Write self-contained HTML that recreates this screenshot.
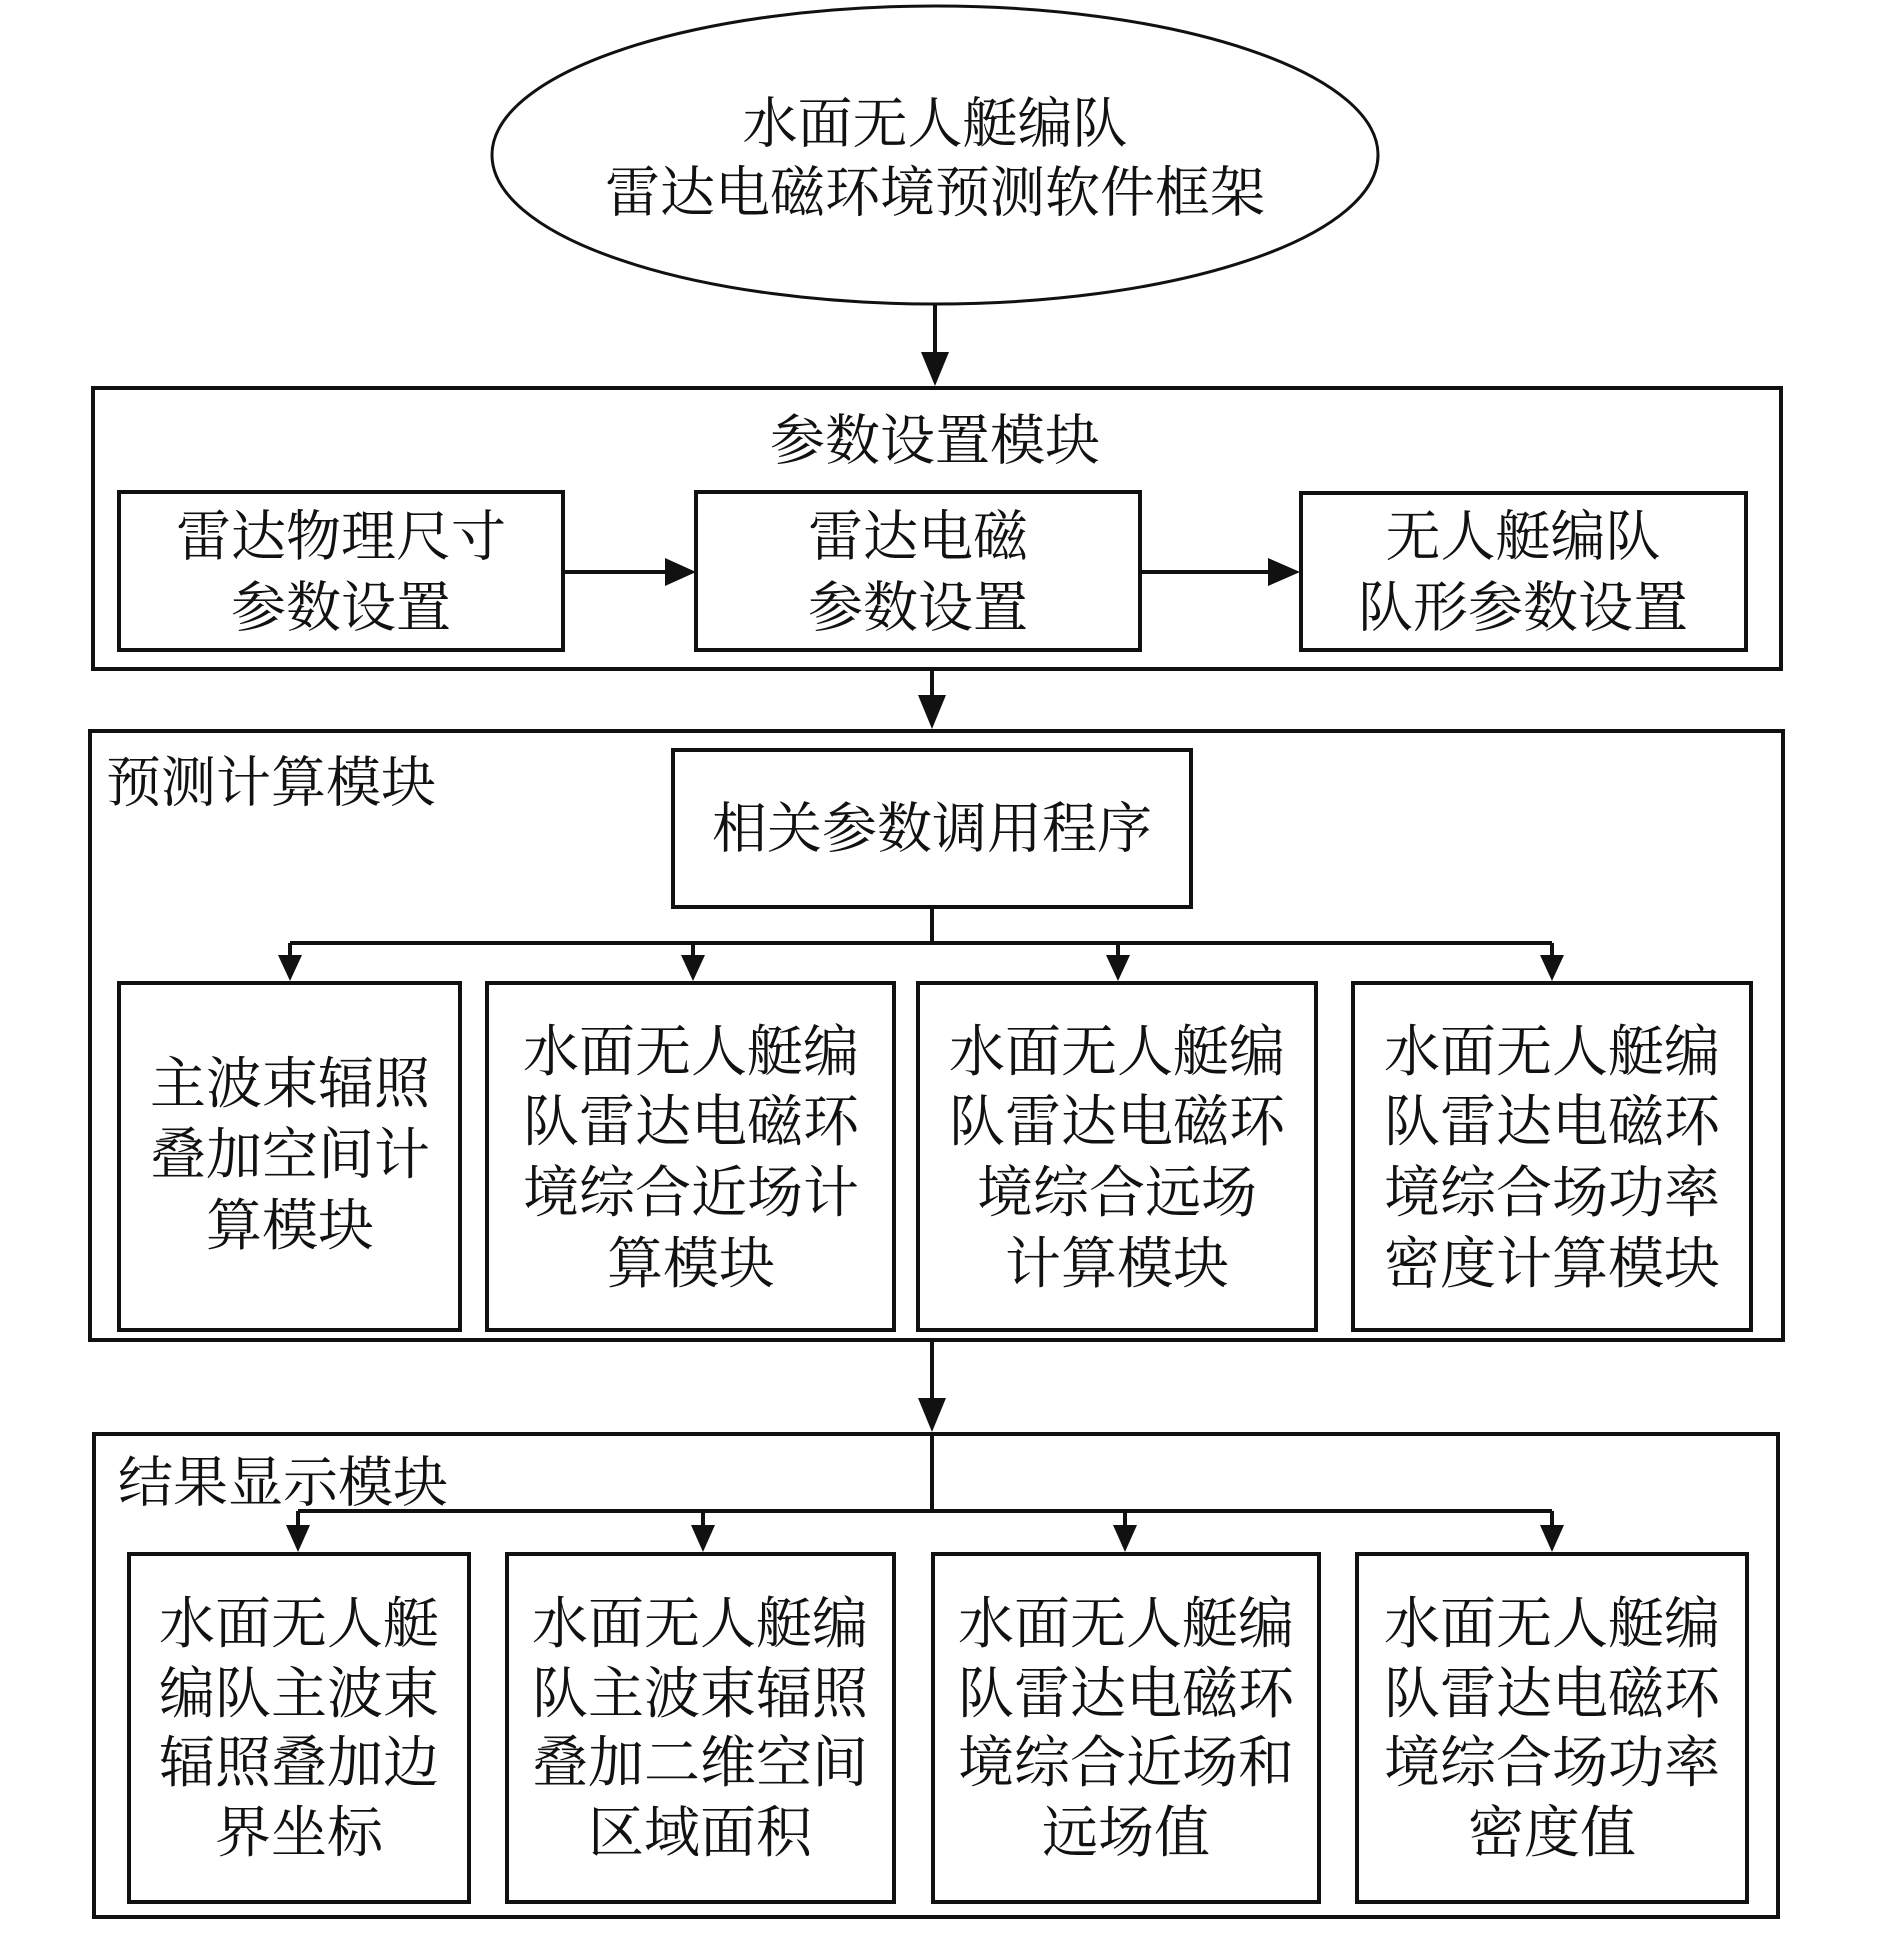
<!DOCTYPE html>
<html><head><meta charset="utf-8"><style>
html,body{margin:0;padding:0;background:#fff;}
svg text{font-family:"Liberation Serif","Noto Serif CJK SC",serif;fill:#111;text-anchor:middle;dominant-baseline:central;}
</style></head><body>
<svg width="1890" height="1946" viewBox="0 0 1890 1946" xmlns="http://www.w3.org/2000/svg">
<defs><marker id="a" markerWidth="10" markerHeight="10" refX="9" refY="5" orient="auto" markerUnits="userSpaceOnUse" viewBox="0 0 10 10"><path d="M0,0 L10,5 L0,10z" fill="#111"/></marker></defs>
<g fill="none" stroke="#111" stroke-width="4">
<ellipse cx="935" cy="155" rx="443" ry="149" stroke-width="3"/>
<rect x="93" y="388" width="1688" height="281"/>
<rect x="119" y="492" width="444" height="158"/>
<rect x="696" y="492" width="444" height="158"/>
<rect x="1301" y="493" width="445" height="157"/>
<rect x="90" y="731" width="1693" height="609"/>
<rect x="673" y="750" width="518" height="157"/>
<rect x="119" y="983" width="341" height="347"/>
<rect x="487" y="983" width="407" height="347"/>
<rect x="918" y="983" width="398" height="347"/>
<rect x="1353" y="983" width="398" height="347"/>
<rect x="94" y="1434" width="1684" height="483"/>
<rect x="129" y="1554" width="340" height="348"/>
<rect x="507" y="1554" width="387" height="348"/>
<rect x="933" y="1554" width="386" height="348"/>
<rect x="1357" y="1554" width="390" height="348"/>
<line x1="932" y1="907" x2="932" y2="943"/>
<line x1="290" y1="943" x2="1552" y2="943"/>
<line x1="932" y1="1434" x2="932" y2="1511"/>
<line x1="298" y1="1511" x2="1552" y2="1511"/>
</g>
<g fill="#111">
<rect x="933" y="304" width="4" height="50"/><path d="M921,352 L949,352 L935,386z"/>
<rect x="930" y="669" width="4" height="28"/><path d="M918,695 L946,695 L932,729z"/>
<rect x="930" y="1340" width="4" height="60"/><path d="M918,1398 L946,1398 L932,1432z"/>
<rect x="563" y="570" width="104" height="4"/><path d="M665,558 L665,586 L696,572z"/>
<rect x="1140" y="570" width="130" height="4"/><path d="M1268,558 L1268,586 L1300,572z"/>
<g id="d1"></g>
</g>
<g fill="#111">
<path d="M288,943 h4 v12 h10 l-12,26 l-12,-26 h10z"/>
<path d="M691,943 h4 v12 h10 l-12,26 l-12,-26 h10z"/>
<path d="M1116,943 h4 v12 h10 l-12,26 l-12,-26 h10z"/>
<path d="M1550,943 h4 v12 h10 l-12,26 l-12,-26 h10z"/>
<path d="M296,1511 h4 v14 h10 l-12,27 l-12,-27 h10z"/>
<path d="M701,1511 h4 v14 h10 l-12,27 l-12,-27 h10z"/>
<path d="M1123,1511 h4 v14 h10 l-12,27 l-12,-27 h10z"/>
<path d="M1550,1511 h4 v14 h10 l-12,27 l-12,-27 h10z"/>
</g>
<g font-size="55">
<text x="935" y="124">水面无人艇编队</text>
<text x="935" y="193">雷达电磁环境预测软件框架</text>
<text x="935" y="441">参数设置模块</text>
<text x="341" y="537">雷达物理尺寸</text><text x="341" y="608">参数设置</text>
<text x="918" y="537">雷达电磁</text><text x="918" y="608">参数设置</text>
<text x="1523" y="537">无人艇编队</text><text x="1523" y="608">队形参数设置</text>
<text x="106" y="783" style="text-anchor:start">预测计算模块</text>
<text x="932" y="829">相关参数调用程序</text>
<text x="118" y="1483" style="text-anchor:start">结果显示模块</text>
</g>
<g font-size="56">
<text x="290" y="1085">主波束辐照</text><text x="290" y="1156">叠加空间计</text><text x="290" y="1227">算模块</text>
<text x="691" y="1053">水面无人艇编</text><text x="691" y="1123">队雷达电磁环</text><text x="691" y="1194">境综合近场计</text><text x="691" y="1265">算模块</text>
<text x="1117" y="1053">水面无人艇编</text><text x="1117" y="1123">队雷达电磁环</text><text x="1117" y="1194">境综合远场</text><text x="1117" y="1265">计算模块</text>
<text x="1552" y="1053">水面无人艇编</text><text x="1552" y="1123">队雷达电磁环</text><text x="1552" y="1194">境综合场功率</text><text x="1552" y="1265">密度计算模块</text>
<text x="299" y="1625">水面无人艇</text><text x="299" y="1695">编队主波束</text><text x="299" y="1764">辐照叠加边</text><text x="299" y="1834">界坐标</text>
<text x="700" y="1625">水面无人艇编</text><text x="700" y="1695">队主波束辐照</text><text x="700" y="1764">叠加二维空间</text><text x="700" y="1834">区域面积</text>
<text x="1126" y="1625">水面无人艇编</text><text x="1126" y="1695">队雷达电磁环</text><text x="1126" y="1764">境综合近场和</text><text x="1126" y="1834">远场值</text>
<text x="1552" y="1625">水面无人艇编</text><text x="1552" y="1695">队雷达电磁环</text><text x="1552" y="1764">境综合场功率</text><text x="1552" y="1834">密度值</text>
</g>
</svg>
</body></html>
